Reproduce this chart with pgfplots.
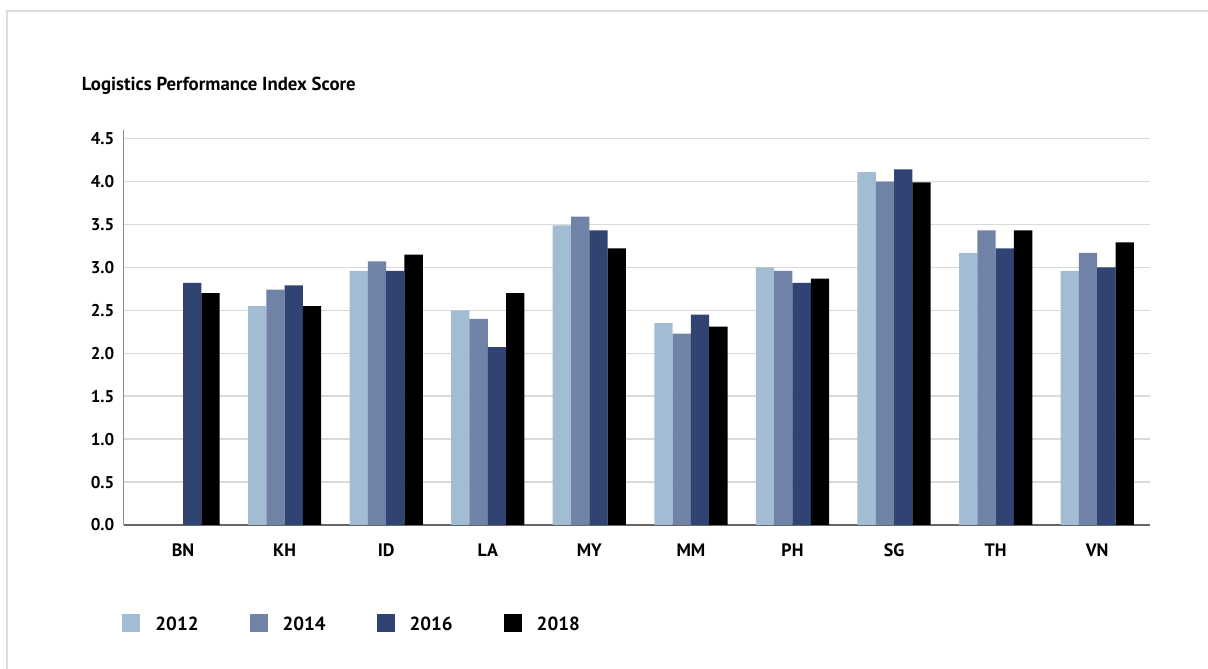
\documentclass[border=0pt]{standalone}
\usepackage{pgfplots}
\pgfplotsset{compat=1.18}
\usepackage{fontspec}
\setmainfont{PT Sans}
\definecolor{c12}{HTML}{A2BCD3}
\definecolor{c14}{HTML}{7082A6}
\definecolor{c16}{HTML}{304373}
\definecolor{c18}{HTML}{000000}
\definecolor{gridc}{HTML}{D9D9D9}
\definecolor{framec}{HTML}{DCDCDC}
\begin{document}
\begin{tikzpicture}[x=1pt,y=1pt]
\useasboundingbox (0,0) rectangle (1208,669);
\draw[framec, line width=1.5pt] (7,0) -- (7,658) -- (1208,658);
\node[anchor=base west, font=\bfseries\fontsize{18.8}{18.8}\selectfont, inner sep=0pt] at (81.7,578.3) {Logistics Performance Index Score};
\begin{axis}[
  at={(123.5pt,144pt)}, anchor=south west,
  scale only axis, width=1026.5pt, height=395pt,
  xmin=-0.586, xmax=9.52, ymin=0, ymax=4.6,
  axis x line*=bottom, axis y line*=left,
  axis line style={-},
  x axis line style={draw=black!60, line width=1.5pt},
  y axis line style={draw=black!45, line width=0.9pt},
  ytick={0,0.5,...,4.5},
  ymajorgrids=true, xmajorgrids=false,
  grid style={gridc, line width=1.5pt},
  major tick length=0pt,
  xtick={0,...,9},
  xticklabels={BN,KH,ID,LA,MY,MM,PH,SG,TH,VN},
  xticklabel style={anchor=base, yshift=-31.7pt, inner sep=0pt, font=\bfseries\fontsize{18}{18}\selectfont},
  yticklabel style={anchor=east, inner sep=0pt, xshift=-9pt, font=\bfseries\fontsize{17}{17}\selectfont},
  /pgf/number format/fixed,
  /pgf/number format/fixed zerofill,
  /pgf/number format/precision=1,
  /pgf/number format/assume math mode=true,
  ybar=0pt, bar width=18.3pt,
  legend columns=4,
  legend cell align=left,
  legend image code/.code={\fill[#1] (0pt,-7pt) rectangle (18pt,11pt);},
  legend style={at={(-0.001,-0.248)}, anchor=west, draw=none, fill=none,
    inner sep=0pt, outer sep=0pt,
    font=\bfseries\fontsize{19}{19}\selectfont,
    nodes={inner sep=0pt},
    /tikz/every odd column/.append style={column sep=15pt},
    /tikz/every even column/.append style={column sep=51pt}},
]
\addplot[fill=c12, draw=none] coordinates {(1,2.55) (2,2.96) (3,2.50) (4,3.49) (5,2.35) (6,3.00) (7,4.11) (8,3.17) (9,2.96)};
\addplot[fill=c14, draw=none] coordinates {(1,2.74) (2,3.07) (3,2.40) (4,3.59) (5,2.23) (6,2.96) (7,4.00) (8,3.43) (9,3.17)};
\addplot[fill=c16, draw=none] coordinates {(0,2.82) (1,2.79) (2,2.96) (3,2.07) (4,3.43) (5,2.45) (6,2.82) (7,4.14) (8,3.22) (9,3.00)};
\addplot[fill=c18, draw=none] coordinates {(0,2.70) (1,2.55) (2,3.15) (3,2.70) (4,3.22) (5,2.31) (6,2.87) (7,3.99) (8,3.43) (9,3.29)};
\legend{2012,2014,2016,2018}
\end{axis}
\end{tikzpicture}
\end{document}
